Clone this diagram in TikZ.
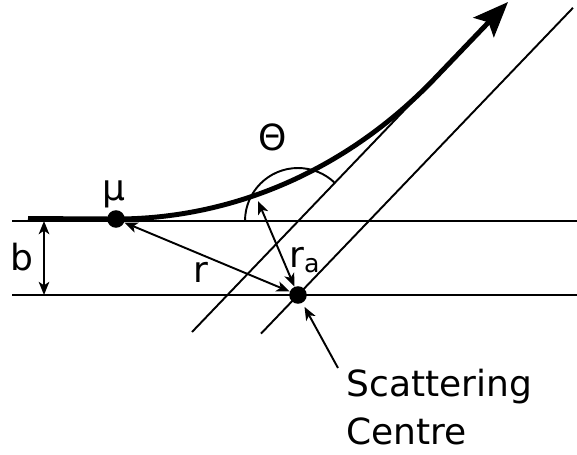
\documentclass[tikz,border=0pt]{standalone}
\usepackage{fontspec}
\setmainfont{DejaVu Sans}
\usetikzlibrary{arrows.meta, positioning, calc}

\begin{document}
\begin{tikzpicture}[
    x=0.02cm, y=-0.02cm,
    guide/.style={line width=1.1pt},
    dot/.style={circle, fill, inner sep=0pt, minimum size=10pt},
    lbl/.style={font=\fontsize{20.5}{27}\selectfont, inner sep=0pt},
    dimarrow/.style={line width=1.1pt, {Stealth[length=7.5pt,width=6pt,inset=2pt]}-{Stealth[length=7.5pt,width=6pt,inset=2pt]}},
    ptrarrow/.style={line width=1.1pt, -{Stealth[length=7.5pt,width=6pt,inset=2pt]}, shorten >=2.5pt},
    track/.style={line width=2.8pt, -{Stealth[length=20pt,width=16pt,inset=4pt]}}
]
\useasboundingbox (0,0) rectangle (577,454);

% impact parameter lines and asymptotes
\draw[guide] (12,221) -- (577,221);
\draw[guide] (12,295) -- (577,295);
\draw[guide] (192,332) -- (460,52.1);
\draw[guide] (261,333.6) -- (573,7.8);

% deflection angle
\draw[guide] (245,221) arc[start angle=180, end angle=313.8, radius=53];

% muon track
\draw[track] (28,218.5) -- (116,219) .. controls (230,219) and (345,172.2) .. (435,78.2) -- (508,2);

\node[dot] (mu) at (116,219) {};
\node[dot] (sc) at (298,295) {};

\coordinate (btop) at (44,221);
\coordinate (bbot) at (44,295);
\coordinate (ratip) at (258,201);
\coordinate (sctail) at (338,368);

% labels
\node[lbl, anchor=base] (mulbl) at (114,200) {μ};
\node[lbl, anchor=base] (thetalbl) at (273,150) {Θ};
\node[lbl, anchor=base] (blbl) at (22,270) {b};
\node[lbl, anchor=base] (rlbl) at (201,282) {r};
\node[lbl, anchor=base west] (ralbl) at (289,267) {r\textsubscript{a}};
\node[lbl, anchor=north west, align=left] (sclbl) at (346,369) {Scattering\\Centre};

% connectors
\draw[dimarrow] (btop) -- (bbot);
\draw[dimarrow] (mu) -- (sc);
\draw[dimarrow] (ratip) -- (sc);
\draw[ptrarrow] (sctail) -- (sc);

\end{tikzpicture}
\end{document}
